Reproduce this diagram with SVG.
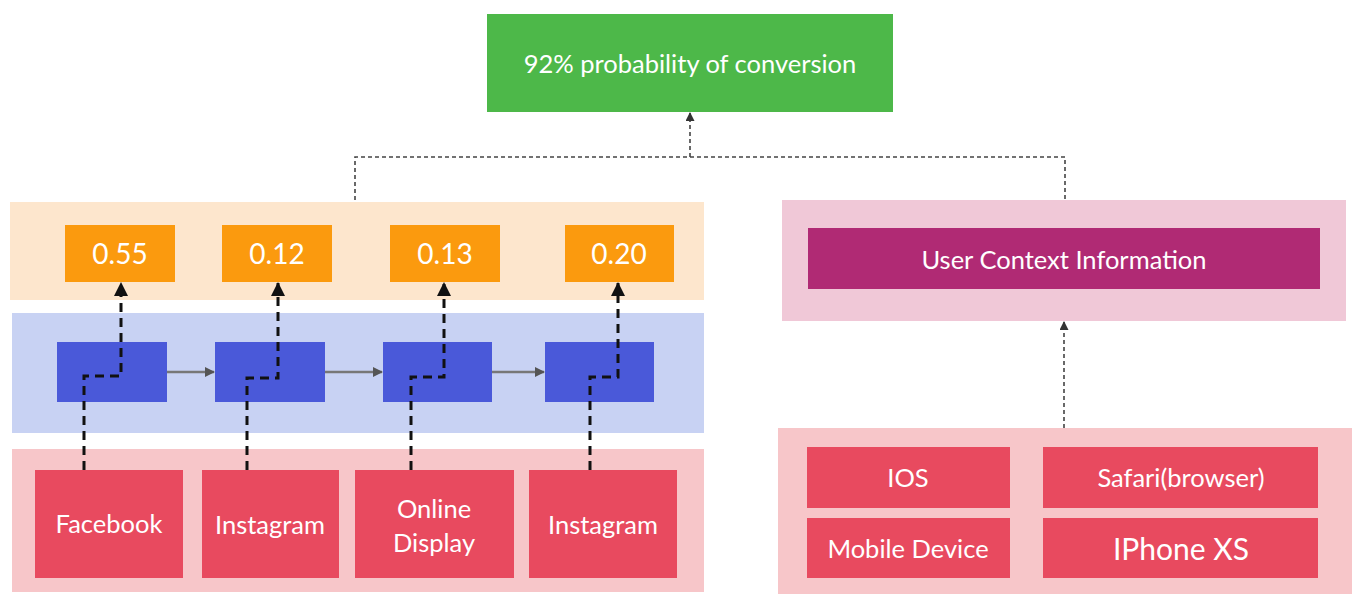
<svg xmlns="http://www.w3.org/2000/svg" width="1354" height="594" viewBox="0 0 1354 594">
<style>
text{font-family:Lato,"Open Sans","Liberation Sans",sans-serif;fill:#fff;text-anchor:middle;dominant-baseline:central}
.org{fill:#fb9a0e}
.blu{fill:#4a59d9}
.red{fill:#e84a5f}
.t22{font-size:25.5px}
.t24{font-size:28px}
.thin{stroke:#444;stroke-width:1.6;stroke-dasharray:4 3;fill:none}
.thick{stroke:#111;stroke-width:3;stroke-dasharray:9 6;fill:none}
.gray{stroke:#777;stroke-width:2.5;fill:none}
</style>
<defs>
<marker id="ahs" markerWidth="9" markerHeight="9" refX="8" refY="4.5" orient="auto" markerUnits="userSpaceOnUse" viewBox="0 0 9 9"><path d="M0,0 L9,4.5 L0,9 z" fill="#333"/></marker>
<marker id="ahg" markerWidth="10" markerHeight="10" refX="9" refY="5" orient="auto" markerUnits="userSpaceOnUse" viewBox="0 0 10 10"><path d="M0,0 L10,5 L0,10 z" fill="#555"/></marker>
<marker id="ahb" markerWidth="14" markerHeight="14" refX="13" refY="7" orient="auto" markerUnits="userSpaceOnUse" viewBox="0 0 14 14"><path d="M0,0 L14,7 L0,14 z" fill="#111"/></marker>
</defs>

<!-- background bands -->
<rect x="10" y="202" width="694" height="98" fill="#fde6cd"/>
<rect x="12" y="313" width="692" height="120" fill="#c8d2f3"/>
<rect x="12" y="449" width="692" height="143" fill="#f7c6c9"/>
<rect x="782" y="200" width="564" height="121" fill="#f0c8d7"/>
<rect x="778" y="428" width="574" height="166" fill="#f7c6c9"/>

<g id="top">
<rect x="487" y="14" width="406" height="98" fill="#4db849"/>
<text x="690" y="63" class="t22">92% probability of conversion</text>
</g>

<g id="p1"><rect class="org" x="65" y="225" width="110" height="57"/><text x="120" y="253" class="t24">0.55</text></g>
<g id="p2"><rect class="org" x="222" y="225" width="110" height="57"/><text x="277" y="253" class="t24">0.12</text></g>
<g id="p3"><rect class="org" x="390" y="225" width="110" height="57"/><text x="445" y="253" class="t24">0.13</text></g>
<g id="p4"><rect class="org" x="565" y="225" width="109" height="57"/><text x="619" y="253" class="t24">0.20</text></g>

<g id="h1"><rect class="blu" x="57" y="342" width="110" height="60"/></g>
<g id="h2"><rect class="blu" x="215" y="342" width="110" height="60"/></g>
<g id="h3"><rect class="blu" x="383" y="342" width="109" height="60"/></g>
<g id="h4"><rect class="blu" x="545" y="342" width="109" height="60"/></g>

<g id="s1"><rect class="red" x="35" y="470" width="148" height="108"/><text x="109" y="523" class="t22">Facebook</text></g>
<g id="s2"><rect class="red" x="202" y="470" width="137" height="108"/><text x="270" y="524" class="t22">Instagram</text></g>
<g id="s3"><rect class="red" x="355" y="470" width="159" height="108"/><text x="434" y="508" class="t22">Online</text><text x="434" y="542" class="t22">Display</text></g>
<g id="s4"><rect class="red" x="529" y="470" width="148" height="108"/><text x="603" y="524" class="t22">Instagram</text></g>

<g id="ctx">
<rect x="808" y="228" width="512" height="61" fill="#b02a74"/>
<text x="1064" y="259" class="t22">User Context Information</text>
</g>

<g id="ios"><rect class="red" x="807" y="447" width="203" height="61"/><text x="908" y="477" class="t22">IOS</text></g>
<g id="safari"><rect class="red" x="1043" y="447" width="275" height="61"/><text x="1181" y="477" class="t22">Safari(browser)</text></g>
<g id="mobile"><rect class="red" x="807" y="518" width="203" height="60"/><text x="908" y="548" class="t22">Mobile Device</text></g>
<g id="iphone"><rect class="red" x="1043" y="518" width="275" height="60"/><text x="1181" y="548" font-size="30px">IPhone XS</text></g>

<g id="connectors">
<path class="thin" d="M355,200 V157 H1065 V200"/>
<path class="thin" d="M690,157 V113" marker-end="url(#ahs)"/>
<path class="thin" d="M1064,428 V322" marker-end="url(#ahs)"/>

<path class="gray" d="M167,372 H214" marker-end="url(#ahg)"/>
<path class="gray" d="M325,372 H382" marker-end="url(#ahg)"/>
<path class="gray" d="M492,372 H544" marker-end="url(#ahg)"/>

<path class="thick" d="M84,470 V376 H121 V283" marker-end="url(#ahb)"/>
<path class="thick" d="M247,470 V378 H278 V283" marker-end="url(#ahb)"/>
<path class="thick" d="M411,470 V377 H444 V283" marker-end="url(#ahb)"/>
<path class="thick" d="M590,470 V377 H618 V283" marker-end="url(#ahb)"/>
</g>
</svg>
